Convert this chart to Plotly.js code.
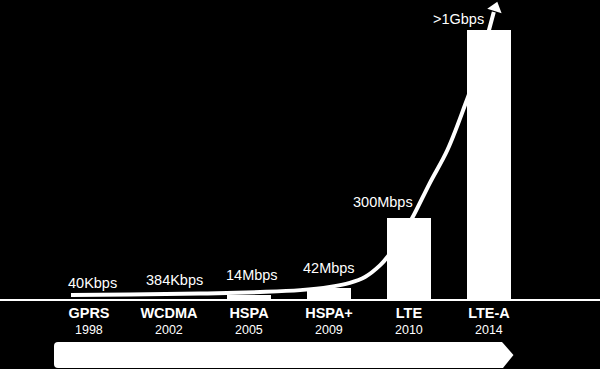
<!DOCTYPE html>
<html>
<head>
<meta charset="utf-8">
<script src="https://cdn.plot.ly/plotly-3.0.1.min.js"></script>
<style>html,body{margin:0;padding:0;background:#000;}#chart{width:600px;height:369px;}</style>
</head>
<body>
<div id="chart"></div>
<script>
// ---- data ----
var techs = ["GPRS", "WCDMA", "HSPA", "HSPA+", "LTE", "LTE-A"];
var years = ["1998", "2002", "2005", "2009", "2010", "2014"];
var speedMbps = [0.04, 0.384, 14, 42, 300, 1000];
var speedLabels = ["40Kbps", "384Kbps", "14Mbps", "42Mbps", "300Mbps", ">1Gbps"];
// growth curve (x in category index units, y in Mbps)
var curveX = [-0.225, 0.51, 1.39, 2.14, 2.64, 3.01, 3.26, 3.45, 3.64, 3.74, 3.89, 4.04, 4.26, 4.48, 4.70, 4.89, 5.00, 5.06];
var curveY = [15, 17, 20, 26, 33, 45, 60, 82, 126, 160, 227, 301, 431, 554, 721, 881, 1000, 1067];
var arrowTipX = [5.08];
var arrowTipY = [1082];

// ---- presentation ----
var labelShift = [[3, 16], [5, 19], [3, 20], [0, 20], [-26, 16], [-31, 11]];
var idx = techs.map(function (_, i) { return i; });
var font = "Liberation Sans, Arial, sans-serif";

var traces = [
  {
    type: "bar", x: idx, y: speedMbps, width: 0.55,
    marker: {color: "#ffffff", line: {width: 0}},
    hoverinfo: "skip", showlegend: false
  },
  {
    type: "scatter", mode: "lines", x: curveX, y: curveY,
    line: {color: "#ffffff", width: 4, shape: "spline", smoothing: 1},
    hoverinfo: "skip", showlegend: false, cliponaxis: false
  },
  {
    type: "scatter", mode: "markers", x: arrowTipX, y: arrowTipY,
    marker: {symbol: "triangle-up", size: 13, angle: 17, color: "#ffffff", line: {width: 0}},
    hoverinfo: "skip", showlegend: false, cliponaxis: false
  }
];

var annotations = [];
speedLabels.forEach(function (t, i) {
  annotations.push({
    x: i, y: speedMbps[i], xref: "x", yref: "y", text: t, showarrow: false,
    xanchor: "center", yanchor: "middle",
    xshift: labelShift[i][0], yshift: labelShift[i][1],
    font: {family: font, size: 14.5, color: "#ffffff"}
  });
});
years.forEach(function (t, i) {
  annotations.push({
    x: i, y: 0, xref: "x", yref: "paper", text: t, showarrow: false,
    xanchor: "center", yanchor: "middle", yshift: -30.5,
    font: {family: font, size: 12.5, color: "#ffffff"}
  });
});

var layout = {
  width: 600, height: 369,
  margin: {l: 0, r: 0, t: 0, b: 70, pad: 0},
  paper_bgcolor: "#000000", plot_bgcolor: "#000000",
  xaxis: {
    range: [-1.1125, 6.3875], tickmode: "array", tickvals: idx,
    ticktext: techs.map(function (t) { return "<b>" + t + "</b>"; }),
    ticks: "", showgrid: false, zeroline: false,
    showline: true, linecolor: "#ffffff", linewidth: 2,
    tickfont: {family: font, size: 14.5, color: "#ffffff"},
    fixedrange: true
  },
  yaxis: {range: [0, 1111.5], visible: false, showgrid: false, zeroline: false, fixedrange: true},
  annotations: annotations,
  shapes: [{
    type: "path", xref: "paper", yref: "paper", layer: "above",
    path: "M 0.0967,-0.1438 L 0.8367,-0.1438 L 0.8558,-0.1873 L 0.8383,-0.2308 L 0.0967,-0.2308 Q 0.09,-0.2308 0.09,-0.2174 L 0.09,-0.1572 Q 0.09,-0.1438 0.0967,-0.1438 Z",
    fillcolor: "#ffffff", line: {width: 0}
  }],
  bargap: 0
};

Plotly.newPlot("chart", traces, layout, {displayModeBar: false, staticPlot: true});
</script>
</body>
</html>
